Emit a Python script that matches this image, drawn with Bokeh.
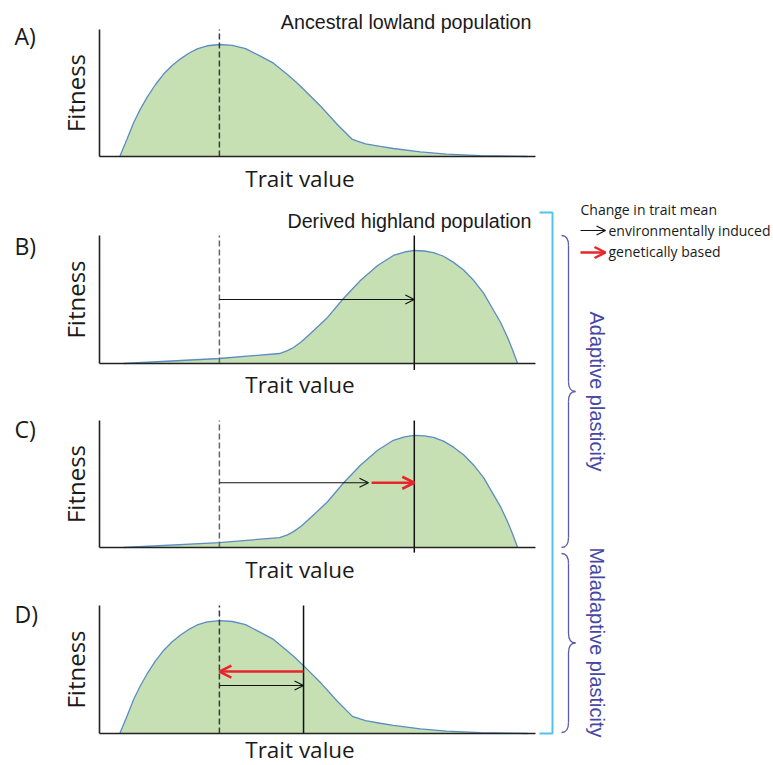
import math
from bokeh.plotting import figure
from bokeh.layouts import column, row
from bokeh.models import Range1d, FixedTicker, Label, Arrow, OpenHead, LinearAxis
from bokeh.core.properties import value
from bokeh.embed import file_html
from bokeh.resources import INLINE

# ---------------- data ----------------
# ancestral lowland fitness landscape (panels A and D)
lowland_trait = [4.66, 6.35, 7.87, 9.40, 10.94, 12.84, 14.75, 16.67, 18.58, 20.48, 22.41,
                 24.70, 27.59, 30.5, 33.5, 36.9, 39.9, 43.1, 44.95, 46.8, 50.9, 54.6, 58.0,
                 61.0, 64.4, 67.4, 73.6, 79.6, 87.4, 98.2]
lowland_fitness = [0.0, 0.139, 0.270, 0.375, 0.467, 0.567, 0.651, 0.717, 0.769, 0.813, 0.848,
                   0.872, 0.882, 0.875, 0.85, 0.79, 0.735, 0.645, 0.59, 0.53, 0.39, 0.25, 0.134,
                   0.10, 0.08, 0.063, 0.036, 0.018, 0.007, 0.0]
# derived highland fitness landscape (panels B and C)
highland_trait = [5.5, 27.5, 41.3, 43.1, 44.5, 46.3, 48.4, 52.3, 56.0, 59.9, 63.8, 67.4,
                  69.95, 72.2, 74.5, 76.6, 78.9, 81.2, 83.5, 85.8, 88.1, 90.4, 92.0, 93.6,
                  94.7, 95.9]
highland_fitness = [0.0, 0.039, 0.078, 0.10, 0.125, 0.17, 0.234, 0.36, 0.51, 0.65, 0.766,
                    0.844, 0.871, 0.883, 0.879, 0.867, 0.838, 0.79, 0.73, 0.65, 0.55, 0.414,
                    0.32, 0.203, 0.11, 0.0]

ancestral_mean = 27.5      # dashed line
highland_mean = 72.2       # solid line, panels B and C
plastic_mean_C = 61.7      # end of environmentally induced change, panel C
plastic_mean_D = 46.8      # solid line, panel D

panel_letters = ["A)", "B)", "C)", "D)"]
panel_titles = ["Ancestral lowland population", "Derived highland population"]
legend_title = "Change in trait mean"
legend_items = ["environmentally induced", "genetically based"]
brace_texts = ["Adaptive plasticity", "Maladaptive plasticity"]

# ---------------- styles / layout ----------------
FILL = "#c6e0b4"
CURVE = "#5b8cc4"
AXIS = "#222222"
RED = "#e8252a"
CYAN = "#4fc4f0"
PURPLE = "#5a5ca8"
PTEXT = "#4848a4"
SANS = "Open Sans"
ARIAL = "Liberation Sans"

LEFT_W = 538
AX_L, AX_R = 99, 535          # pixel extent of each panel's trait axis
PPU_X = (AX_R - AX_L) / 100.0
XLABEL_SPAN = 92.0            # the "Trait value" label sits left of the axis centre


def style_axis(ax, size):
    ax.ticker = FixedTicker(ticks=[])
    ax.major_tick_line_color = None
    ax.minor_tick_line_color = None
    ax.major_label_text_font_size = "0px"
    ax.axis_line_color = AXIS
    ax.axis_line_width = 1.6
    ax.axis_label_text_font = SANS
    ax.axis_label_text_font_size = size
    ax.axis_label_text_font_style = "normal"
    ax.axis_label_text_color = "#1a1a1a"


class Panel:
    def __init__(self, fig_top, fig_bottom, ax_top, ax_bottom, standoff):
        self.ax_bottom = ax_bottom
        self.ppu = float(ax_bottom - ax_top)
        y0 = -(fig_bottom - ax_bottom) / self.ppu
        y1 = 1 + (ax_top - fig_top) / self.ppu
        x0 = -AX_L / PPU_X
        x1 = (LEFT_W - AX_L) / PPU_X
        p = figure(width=LEFT_W, height=fig_bottom - fig_top,
                   x_range=Range1d(x0, x1), y_range=Range1d(y0, y1),
                   output_backend="svg", toolbar_location=None, title=None,
                   min_border=0, x_axis_location=None, y_axis_location=None)
        p.grid.visible = False
        p.outline_line_color = None
        xa = LinearAxis(fixed_location=0, bounds=(0, 100))
        xl = LinearAxis(fixed_location=0, bounds=(0, XLABEL_SPAN), axis_label="Trait value")
        ya = LinearAxis(fixed_location=0, bounds=(0, 1), axis_label="Fitness")
        style_axis(xa, "22.5px")
        style_axis(xl, "22.5px")
        style_axis(ya, "24px")
        xl.axis_line_color = None
        xl.axis_label_standoff = standoff
        ya.axis_label_standoff = 8
        p.add_layout(xa, "below")
        p.add_layout(xl, "below")
        p.add_layout(ya, "left")
        self.p = p

    # page pixel -> data helpers for annotation placement
    def dx(self, px):
        return (px - AX_L) / PPU_X

    def dy(self, py):
        return (self.ax_bottom - py) / self.ppu

    def landscape(self, xs, ys):
        self.p.varea(x=xs, y1=[0] * len(xs), y2=ys, fill_color=FILL)
        self.p.line(x=xs, y=ys, line_color=CURVE, line_width=1.3)

    def vline(self, x, dashed, color, bottom=0.0):
        self.p.segment(x0=[x], y0=[bottom], x1=[x], y1=[1], line_color=color, line_width=1.5,
                       line_dash="6 3" if dashed else "solid")

    def arrow(self, x0, x1, y, color, lw, size):
        self.p.add_layout(Arrow(x_start=x0, y_start=y, x_end=x1, y_end=y, line_color=color,
                                line_width=lw,
                                end=OpenHead(size=size, line_color=color, line_width=lw)))

    def letter(self, txt, py):
        self.p.add_layout(Label(x=self.dx(14), y=self.dy(py), text=txt, text_font=SANS,
                                text_font_size="23px", text_baseline="middle",
                                text_align="left", text_color="#1a1a1a"))

    def title(self, txt, py):
        self.p.add_layout(Label(x=self.dx(531), y=self.dy(py), text=txt, text_font=ARIAL,
                                text_font_size="19.7px", text_baseline="middle",
                                text_align="right", text_color="#1a1a1a"))


# Panel A
A = Panel(0, 200, 29, 156, 6)
A.landscape(lowland_trait, lowland_fitness)
A.vline(ancestral_mean, True, "#3a3a3a")
A.letter(panel_letters[0], 35)
A.title(panel_titles[0], 21)

# Panel B
B = Panel(200, 405, 235, 363, 5)
B.landscape(highland_trait, highland_fitness)
B.vline(ancestral_mean, True, "#666666")
B.vline(highland_mean, False, "#111111", -0.05)
B.arrow(ancestral_mean, highland_mean, 0.50, "#111111", 1.2, 9)
B.letter(panel_letters[1], 245)
B.title(panel_titles[1], 220)

# Panel C
C = Panel(405, 592, 420, 547, 6)
C.landscape(highland_trait, highland_fitness)
C.vline(ancestral_mean, True, "#666666")
C.vline(highland_mean, False, "#111111", -0.04)
C.arrow(ancestral_mean, plastic_mean_C, 0.51, "#111111", 1.2, 9)
C.arrow(plastic_mean_C + 0.7, highland_mean, 0.51, RED, 2.6, 12)
C.letter(panel_letters[2], 428)

# Panel D
D = Panel(592, 764, 605, 733, 0)
D.landscape(lowland_trait, lowland_fitness)
D.vline(ancestral_mean, True, "#3a3a3a")
D.vline(plastic_mean_D, False, "#111111")
D.arrow(plastic_mean_D, ancestral_mean, 0.484, RED, 2.6, 12)
D.arrow(ancestral_mean, plastic_mean_D, 0.375, "#111111", 1.2, 9)
D.letter(panel_letters[3], 613)

# Right-hand annotation strip (page-pixel coordinates)
pR = figure(width=234, height=764, x_range=Range1d(538, 772), y_range=Range1d(764, 0),
            output_backend="svg", toolbar_location=None, title=None,
            min_border=0, x_axis_location=None, y_axis_location=None)
pR.grid.visible = False
pR.outline_line_color = None

# cyan bracket
pR.line(x=[539, 552, 552, 539], y=[212, 212, 733, 733], line_color=CYAN, line_width=2)


def brace(p, y0, y1, xb=561, xs=568, xt=575):
    ym = (y0 + y1) / 2
    p.quadratic(x0=[xb, xs, xt, xs], y0=[y0, ym - 10, ym, y1 - 10],
                x1=[xs, xt, xs, xb], y1=[y0 + 10, ym, ym + 10, y1],
                cx=[xs, xs, xs, xs], cy=[y0, ym, ym, y1],
                line_color=PURPLE, line_width=1.3)
    p.segment(x0=[xs, xs], y0=[y0 + 10, ym + 10], x1=[xs, xs], y1=[ym - 10, y1 - 10],
              line_color=PURPLE, line_width=1.3)


brace(pR, 235, 547)
brace(pR, 553, 732)
pR.text(x=[596, 596], y=[391, 642], text=brace_texts, angle=-math.pi / 2,
        text_align="center", text_baseline="middle", text_font=value(ARIAL),
        text_font_size="20px", text_color=PTEXT)

# legend
pR.text(x=[580], y=[209], text=[legend_title], text_align="left", text_baseline="middle",
        text_font=value(SANS), text_font_size="14px", text_color="#1a1a1a")
pR.text(x=[608, 608], y=[230, 251], text=legend_items, text_align="left",
        text_baseline="middle", text_font=value(SANS), text_font_size="14px",
        text_color="#1a1a1a")
pR.add_layout(Arrow(x_start=580, y_start=230, x_end=605, y_end=230, line_color="#111111",
                    line_width=1.2, end=OpenHead(size=9, line_color="#111111", line_width=1.2)))
pR.add_layout(Arrow(x_start=580, y_start=252, x_end=605, y_end=252, line_color=RED,
                    line_width=2.4, end=OpenHead(size=11, line_color=RED, line_width=2.4)))

layout = row(column(A.p, B.p, C.p, D.p), pR)
open("out.html", "w").write(file_html(layout, INLINE))
